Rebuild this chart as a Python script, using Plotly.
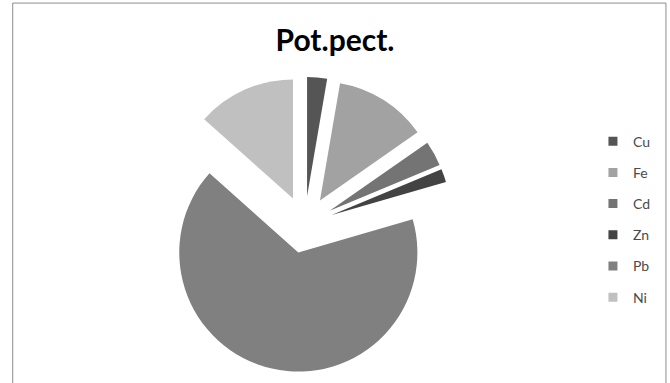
import plotly.graph_objects as go

labels = ["Cu", "Fe", "Cd", "Zn", "Pb", "Ni"]
values = [2.7, 12.6, 3.4, 1.8, 66.1, 13.4]
colors = ["#555555", "#a2a2a2", "#747474", "#434343", "#808080", "#c0c0c0"]
pulls = [0.24, 0.24, 0.24, 0.24, 0.24, 0.24]

fig = go.Figure()
fig.add_trace(go.Pie(
    labels=labels, values=values, sort=False, direction="clockwise", rotation=0,
    marker=dict(colors=colors, line=dict(width=0)),
    pull=pulls, textinfo="none", hoverinfo="label+value", showlegend=False,
    domain=dict(x=[0.178, 0.7314], y=[0.028, 0.799]),
))
for lab, col in zip(labels, colors):
    fig.add_trace(go.Scatter(
        x=[None], y=[None], mode="markers", name=lab, legendgroup=lab,
        marker=dict(symbol="square", size=9, color=col),
    ))

fig.update_layout(
    width=670, height=383,
    margin=dict(l=0, r=0, t=0, b=0),
    paper_bgcolor="white", plot_bgcolor="white",
    title=dict(text="<b>Pot.pect.</b>", x=0.5, xanchor="center", y=0.893, yanchor="middle",
               font=dict(family="Lato, Open Sans, sans-serif", size=30, color="#000000")),
    xaxis=dict(visible=False), yaxis=dict(visible=False),
    legend=dict(x=0.885, y=0.672, xanchor="left", yanchor="top",
                font=dict(family="Lato, Open Sans, sans-serif", size=14, color="#4a4a4a"),
                tracegroupgap=10, itemwidth=30, bgcolor="rgba(0,0,0,0)"),
    shapes=[dict(type="rect", xref="paper", yref="paper", x0=0.019, x1=0.994, y0=-0.05, y1=0.992,
                 line=dict(color="#8c8c8c", width=1), fillcolor="rgba(0,0,0,0)")],
)

fig.write_html("out.html")
